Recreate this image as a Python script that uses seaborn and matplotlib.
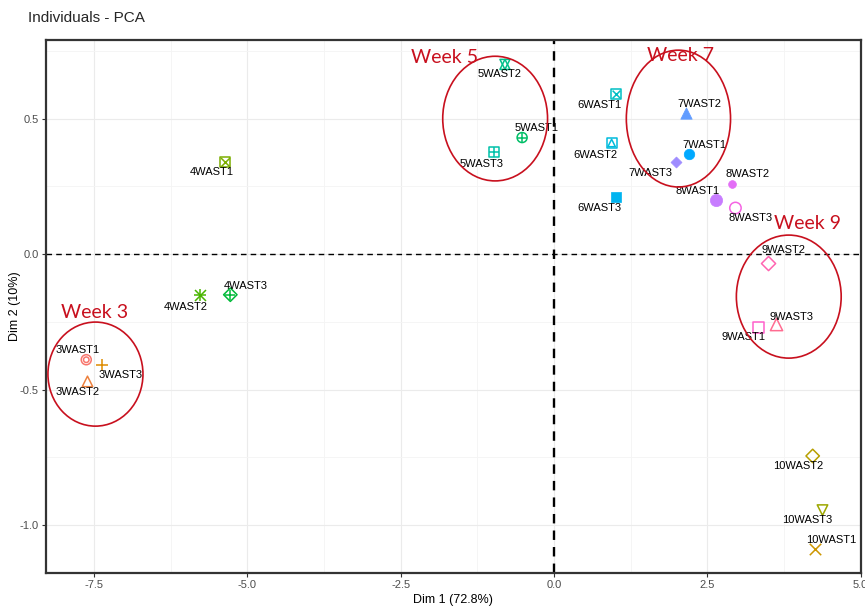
import numpy as np
import pandas as pd
import matplotlib
matplotlib.use("Agg")
import matplotlib.pyplot as plt
from matplotlib.patches import Ellipse
import seaborn as sns

# ---------------- data ----------------
names = ["3WAST1", "3WAST2", "3WAST3", "10WAST1", "10WAST2", "10WAST3",
         "4WAST1", "4WAST2", "4WAST3", "5WAST1", "5WAST2", "5WAST3",
         "6WAST1", "6WAST2", "6WAST3", "7WAST1", "7WAST2", "7WAST3",
         "8WAST1", "8WAST2", "8WAST3", "9WAST1", "9WAST2", "9WAST3"]
dim1 = [-7.63, -7.61, -7.37, 4.25, 4.22, 4.38,
        -5.37, -5.77, -5.28, -0.52, -0.80, -0.98,
        1.01, 0.94, 1.01, 2.20, 2.15, 1.99,
        2.64, 2.90, 2.96, 3.34, 3.50, 3.63]
dim2 = [-0.39, -0.47, -0.41, -1.09, -0.745, -0.945,
        0.34, -0.15, -0.15, 0.43, 0.70, 0.375,
        0.59, 0.41, 0.21, 0.37, 0.52, 0.34,
        0.20, 0.26, 0.17, -0.27, -0.035, -0.26]
week_labels = ["Week 3", "Week 5", "Week 7", "Week 9"]
title = "Individuals - PCA"
xlabel = "Dim 1 (72.8%)"
ylabel = "Dim 2 (10%)"

df = pd.DataFrame({"name": names, "Dim1": dim1, "Dim2": dim2})

# ---------------- styling helpers ----------------
def hcl_hex(h, c=100.0, l=65.0):
    # polar LUV -> sRGB (as R's hcl)
    hr = np.deg2rad(h)
    U, V = c * np.cos(hr), c * np.sin(hr)
    Xn, Yn, Zn = 95.047, 100.0, 108.883
    un = 4 * Xn / (Xn + 15 * Yn + 3 * Zn)
    vn = 9 * Yn / (Xn + 15 * Yn + 3 * Zn)
    Y = Yn * (((l + 16) / 116) ** 3 if l > 8 else l / 903.3)
    u = U / (13 * l) + un
    v = V / (13 * l) + vn
    X = 9.0 * Y * u / (4 * v)
    Z = -X / 3 - 5 * Y + 3 * Y / v
    X, Y, Z = X / 100, Y / 100, Z / 100
    r = 3.240479 * X - 1.537150 * Y - 0.498535 * Z
    g = -0.969256 * X + 1.875992 * Y + 0.041556 * Z
    b = 0.055648 * X - 0.204043 * Y + 1.057311 * Z
    def gam(t):
        t = 12.92 * t if t <= 0.0031308 else 1.055 * t ** (1 / 2.4) - 0.055
        return min(max(t, 0), 1)
    return (gam(r), gam(g), gam(b))

n = len(names)
colors = [hcl_hex(15 + 360 * i / n) for i in range(n)]

# marker layers per ggplot shape index (1..24): (marker, mode, size factor)
S = 52
shape_layers = {
    1: [("o", "open", 1.0), ("o", "open", 0.3)],
    2: [("^", "open", 1.1)],
    3: [("+", "line", 1.5)],
    4: [("x", "line", 1.3)],
    5: [("D", "open", 0.9)],
    6: [("v", "open", 1.1)],
    7: [("s", "open", 1.0), ("x", "line", 0.8)],
    8: [("+", "line", 1.5), ("x", "line", 1.2)],
    9: [("D", "open", 0.9), ("+", "line", 1.0)],
    10: [("o", "open", 1.0), ("+", "line", 1.0)],
    11: [("^", "open", 1.0), ("v", "open", 1.0)],
    12: [("s", "open", 1.0), ("+", "line", 1.0)],
    13: [("s", "open", 0.9), ("x", "line", 0.6)],
    14: [("s", "open", 1.0), ("^", "open", 0.55)],
    15: [("s", "filled", 1.0)],
    16: [("o", "filled", 1.1)],
    17: [("^", "filled", 1.3)],
    18: [("D", "filled", 0.6)],
    19: [("o", "filled", 1.5)],
    20: [("o", "filled", 0.6)],
    21: [("o", "open", 1.3)],
    22: [("s", "open", 1.2)],
    23: [("D", "open", 1.0)],
    24: [("^", "open", 1.5)],
}

# label offsets (pixels; right, down)
label_off = {
    "3WAST1": (-9, -10), "3WAST2": (-10, 11), "3WAST3": (18, 10),
    "10WAST1": (17, -9), "10WAST2": (-14, 10), "10WAST3": (-15, 10),
    "4WAST1": (-13, 10), "4WAST2": (-15, 12), "4WAST3": (15, -9),
    "5WAST1": (14, -10), "5WAST2": (-5, 10), "5WAST3": (-12, 12),
    "6WAST1": (-16, 11), "6WAST2": (-16, 12), "6WAST3": (-16, 11),
    "7WAST1": (16, -9), "7WAST2": (14, -9), "7WAST3": (-26, 11),
    "8WAST1": (-18, -9), "8WAST2": (16, -10), "8WAST3": (15, 10),
    "9WAST1": (-15, 10), "9WAST2": (15, -14), "9WAST3": (15, -8),
}

# ---------------- figure ----------------
sns.set_theme(style="white")
plt.rcParams["font.family"] = ["Liberation Sans", "DejaVu Sans"]

fig = plt.figure(figsize=(8.65, 6.08), dpi=100)
ax = fig.add_axes([45.8 / 865, 1 - 573 / 608, (860.5 - 45.8) / 865, (573 - 40) / 608])

ax.set_xticks([-7.5, -5.0, -2.5, 0.0, 2.5, 5.0])
ax.set_yticks([-1.0, -0.5, 0.0, 0.5])
ax.set_xticks(np.arange(-8.75, 5.1, 2.5), minor=True)
ax.set_yticks([-0.75, -0.25, 0.25, 0.75], minor=True)
ax.grid(True, which="major", color="#EBEBEB", lw=0.8, zorder=0)
ax.grid(True, which="minor", color="#F4F4F4", lw=0.6, zorder=0)
ax.set_axisbelow(True)

ax.axhline(0, color="black", ls=(0, (4, 3)), lw=1.0, zorder=1)
ax.axvline(0, color="black", ls=(0, (4, 3)), lw=1.7, zorder=1)

for i, row in df.iterrows():
    c = colors[i]
    for (m, mode, f) in shape_layers[i + 1]:
        sub = df.iloc[[i]]
        kw = dict(data=sub, x="Dim1", y="Dim2", marker=m, s=S * f, ax=ax,
                  legend=False, zorder=3)
        if mode == "filled":
            sns.scatterplot(**kw, color=c, edgecolor=c, linewidth=0.5)
        elif mode == "open":
            sns.scatterplot(**kw, color=c, facecolor="none", edgecolor=c, linewidth=1.1)
        else:
            sns.scatterplot(**kw, color=c, linewidth=1.1)
    dx, dy = label_off[row["name"]]
    ax.annotate(row["name"], (row["Dim1"], row["Dim2"]),
                xytext=(dx * 0.72, -dy * 0.72), textcoords="offset points",
                ha="center", va="center", fontsize=8, color="black", zorder=4)

# week ellipses
red = "#C8101E"
ell = [(-7.48, -0.443, 1.55, 0.384), (-0.96, 0.50, 1.71, 0.46),
       (2.03, 0.50, 1.70, 0.505), (3.83, -0.157, 1.71, 0.454)]
wpos = [(-7.50, -0.214), (-1.78, 0.725), (2.07, 0.732), (4.14, 0.114)]
for (cx, cy, w, h), (tx, ty), lab in zip(ell, wpos, week_labels):
    ax.add_patch(Ellipse((cx, cy), w, h, fill=False, edgecolor=red, lw=1.2, zorder=5))
    ax.text(tx, ty, lab, color=red, fontsize=14, ha="center", va="center",
            family=["Lato", "DejaVu Sans"], zorder=6)

ax.set_xlim(-8.29, 5.0)
ax.set_ylim(-1.177, 0.79)

for sp in ax.spines.values():
    sp.set_visible(True)
    sp.set_color("#333333")
    sp.set_linewidth(1.6)

ax.tick_params(axis="both", which="major", length=3, width=0.8, color="#333333",
               labelsize=8, labelcolor="#4D4D4D", bottom=True, left=True, pad=2)
ax.tick_params(which="minor", length=0)
ax.set_xticklabels(["-7.5", "-5.0", "-2.5", "0.0", "2.5", "5.0"])
ax.set_yticklabels(["-1.0", "-0.5", "0.0", "0.5"])

ax.set_xlabel(xlabel, fontsize=9, color="black", labelpad=3)
ax.set_ylabel(ylabel, fontsize=9, color="black")
ax.yaxis.set_label_coords(-0.030, 0.5)
fig.text(28 / 865, 1 - 18 / 608, title, fontsize=11, ha="left", va="center")

fig.savefig("out.png", dpi=100)
